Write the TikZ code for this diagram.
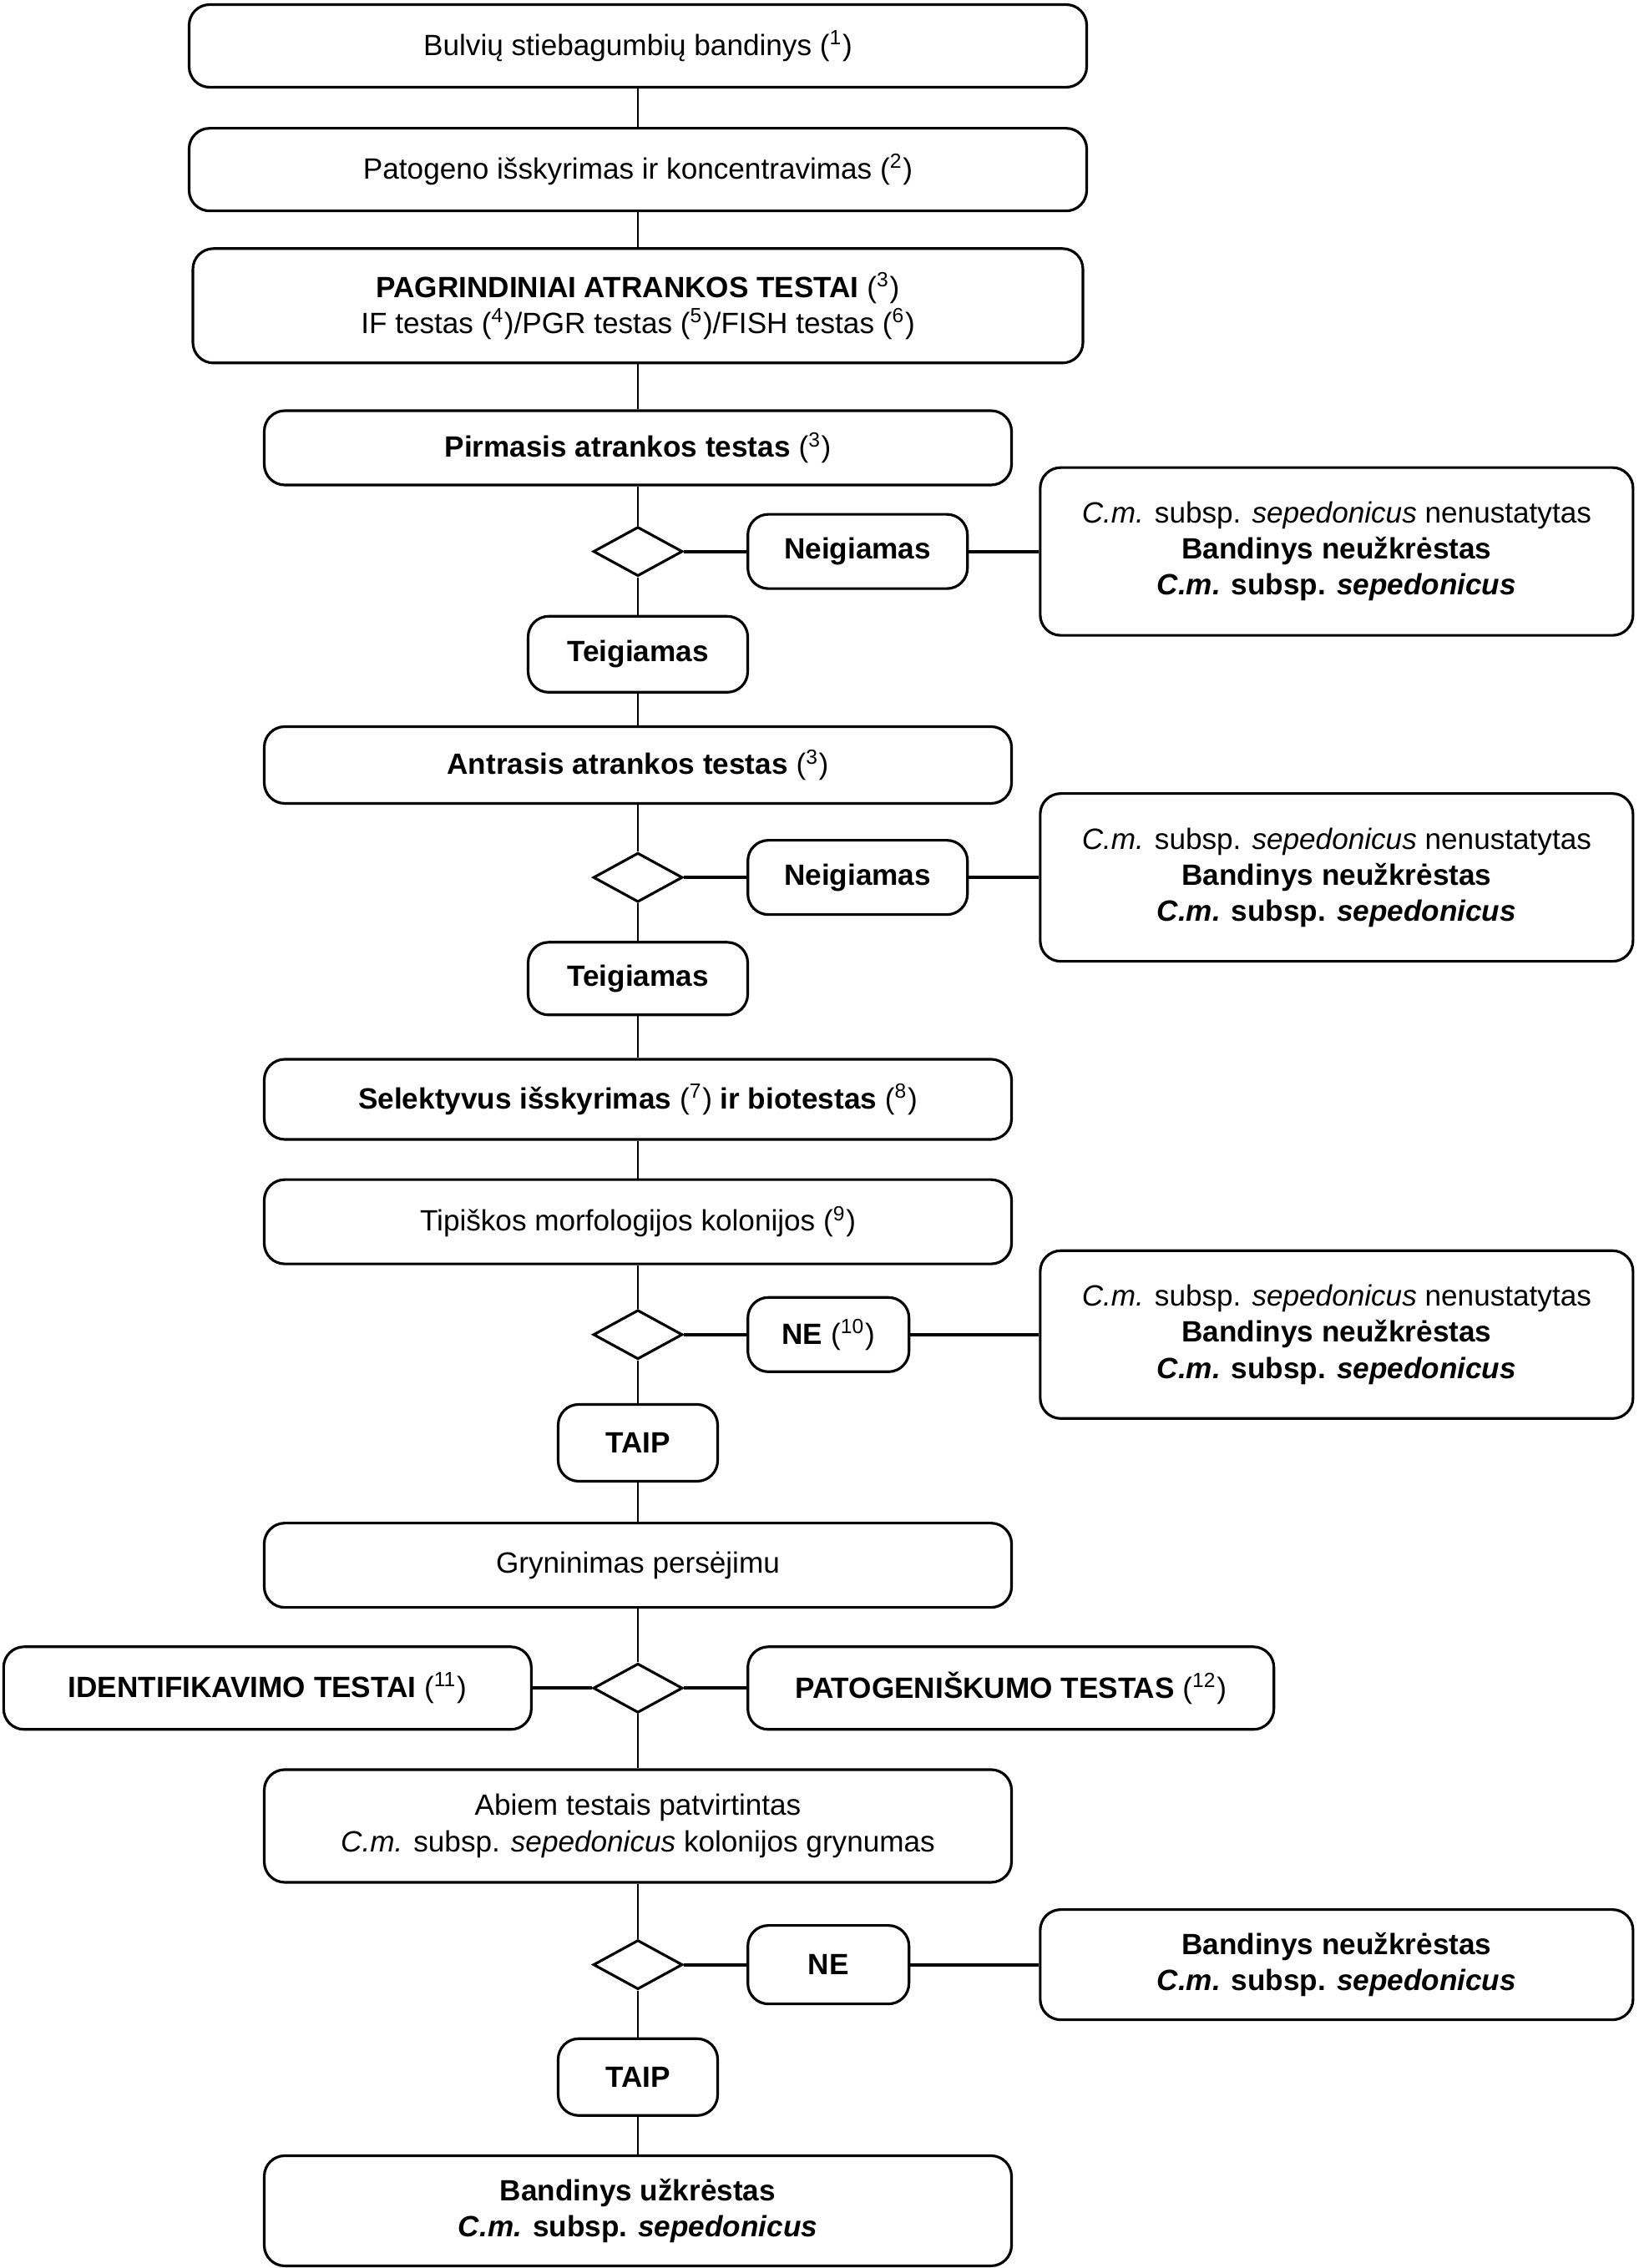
\documentclass[tikz,border=0pt]{standalone}
\usepackage{fontspec}
\setmainfont{Liberation Sans}
\usetikzlibrary{positioning,shapes.geometric}

\begin{document}
\begin{tikzpicture}[
  node distance=5mm and 7.5mm,
  box/.style={
    draw,
    line width=0.9pt,
    rounded corners=7pt,
    align=center,
    inner sep=2pt,
    font=\fontsize{10}{12.3}\selectfont,
    minimum width=89.5mm
  },
  widebox/.style={box, minimum width=107.5mm, minimum height=9.9mm},
  tagbox/.style={box, minimum width=26.3mm, minimum height=8.9mm, font=\fontsize{10}{12.3}\selectfont\bfseries},
  yesbox/.style={tagbox, minimum width=19.1mm, minimum height=9.2mm},
  result/.style={box, minimum width=71mm, minimum height=20.1mm},
  decision/.style={draw, diamond, line width=0.9pt, inner sep=0pt, minimum width=10.7mm, minimum height=5.9mm},
  link/.style={line width=0.6pt},
  branch/.style={line width=1.2pt}
]
\useasboundingbox (0,0) rectangle (19.62,-27.17);

\node[widebox] (sample) at (7.64,-0.55) {Bulvių stiebagumbių bandinys (\textsuperscript{1})};
\node[widebox, below=4.6mm of sample] (isolation) {Patogeno išskyrimas ir koncentravimas (\textsuperscript{2})};
\node[box, minimum width=106.6mm, minimum height=13.7mm, below=4.2mm of isolation] (screening) {\textbf{PAGRINDINIAI ATRANKOS TESTAI} (\textsuperscript{3})\\IF testas (\textsuperscript{4})/PGR testas (\textsuperscript{5})/FISH testas (\textsuperscript{6})};
\node[box, minimum height=8.9mm, below=5.4mm of screening] (first) {\textbf{Pirmasis atrankos testas} (\textsuperscript{3})};
\node[decision, below=4.7mm of first] (d1) {};
\node[tagbox, right=7.5mm of d1] (neg1) {Neigiamas};
\node[result, right=8.4mm of neg1] (res1) {\textit{C.m.} subsp. \textit{sepedonicus} nenustatytas\\\textbf{Bandinys neužkrėstas}\\\textbf{\textit{C.m.} subsp. \textit{sepedonicus}}};
\node[tagbox, minimum height=9.1mm, below=4.5mm of d1] (pos1) {Teigiamas};
\node[box, minimum height=9.2mm, below=3.8mm of pos1] (second) {\textbf{Antrasis atrankos testas} (\textsuperscript{3})};
\node[decision, below=5.6mm of second] (d2) {};
\node[tagbox, right=7.5mm of d2] (neg2) {Neigiamas};
\node[result, right=8.4mm of neg2] (res2) {\textit{C.m.} subsp. \textit{sepedonicus} nenustatytas\\\textbf{Bandinys neužkrėstas}\\\textbf{\textit{C.m.} subsp. \textit{sepedonicus}}};
\node[tagbox, minimum height=8.7mm, below=4.5mm of d2] (pos2) {Teigiamas};
\node[box, minimum height=9.6mm, below=5mm of pos2] (selective) {\textbf{Selektyvus išskyrimas} (\textsuperscript{7}) \textbf{ir biotestas} (\textsuperscript{8})};
\node[box, minimum height=10.1mm, below=4.5mm of selective] (colonies) {Tipiškos morfologijos kolonijos (\textsuperscript{9})};
\node[decision, below=5.2mm of colonies] (d3) {};
\node[yesbox, minimum width=19.3mm, minimum height=8.9mm, right=7.5mm of d3] (no1) {NE \mdseries(\textsuperscript{10})};
\node[result, right=15.4mm of no1] (res3) {\textit{C.m.} subsp. \textit{sepedonicus} nenustatytas\\\textbf{Bandinys neužkrėstas}\\\textbf{\textit{C.m.} subsp. \textit{sepedonicus}}};
\node[yesbox, below=5.1mm of d3] (yes1) {TAIP};
\node[box, minimum height=10.1mm, below=4.7mm of yes1] (purify) {Gryninimas persėjimu};
\node[decision, below=6.4mm of purify] (d4) {};
\node[box, minimum width=63.2mm, minimum height=9.9mm, left=7.1mm of d4] (ident) {\textbf{IDENTIFIKAVIMO TESTAI} (\textsuperscript{11})};
\node[box, minimum width=63mm, minimum height=9.9mm, right=7.5mm of d4] (patho) {\textbf{PATOGENIŠKUMO TESTAS} (\textsuperscript{12})};
\node[box, minimum height=13.5mm, below=6.5mm of d4] (confirmed) {Abiem testais patvirtintas\\\textit{C.m.} subsp. \textit{sepedonicus} kolonijos grynumas};
\node[decision, below=6.6mm of confirmed] (d5) {};
\node[yesbox, minimum width=19.3mm, minimum height=9.4mm, right=7.5mm of d5] (no2) {NE};
\node[result, minimum height=13.2mm, right=15.4mm of no2] (res4) {\textbf{Bandinys neužkrėstas}\\\textbf{\textit{C.m.} subsp. \textit{sepedonicus}}};
\node[yesbox, below=5.6mm of d5] (yes2) {TAIP};
\node[box, minimum height=13.2mm, below=4.5mm of yes2] (infected) {\textbf{Bandinys užkrėstas}\\\textbf{\textit{C.m.} subsp. \textit{sepedonicus}}};

\draw[link] (sample) -- (isolation);
\draw[link] (isolation) -- (screening);
\draw[link] (screening) -- (first);
\draw[link] (first) -- (d1) -- (pos1) -- (second) -- (d2) -- (pos2) -- (selective) -- (colonies) -- (d3) -- (yes1) -- (purify) -- (d4) -- (confirmed) -- (d5) -- (yes2) -- (infected);
\draw[branch] (d1) -- (neg1) -- (res1);
\draw[branch] (d2) -- (neg2) -- (res2);
\draw[branch] (d3) -- (no1) -- (res3);
\draw[branch] (ident) -- (d4) -- (patho);
\draw[branch] (d5) -- (no2) -- (res4);
\end{tikzpicture}
\end{document}
